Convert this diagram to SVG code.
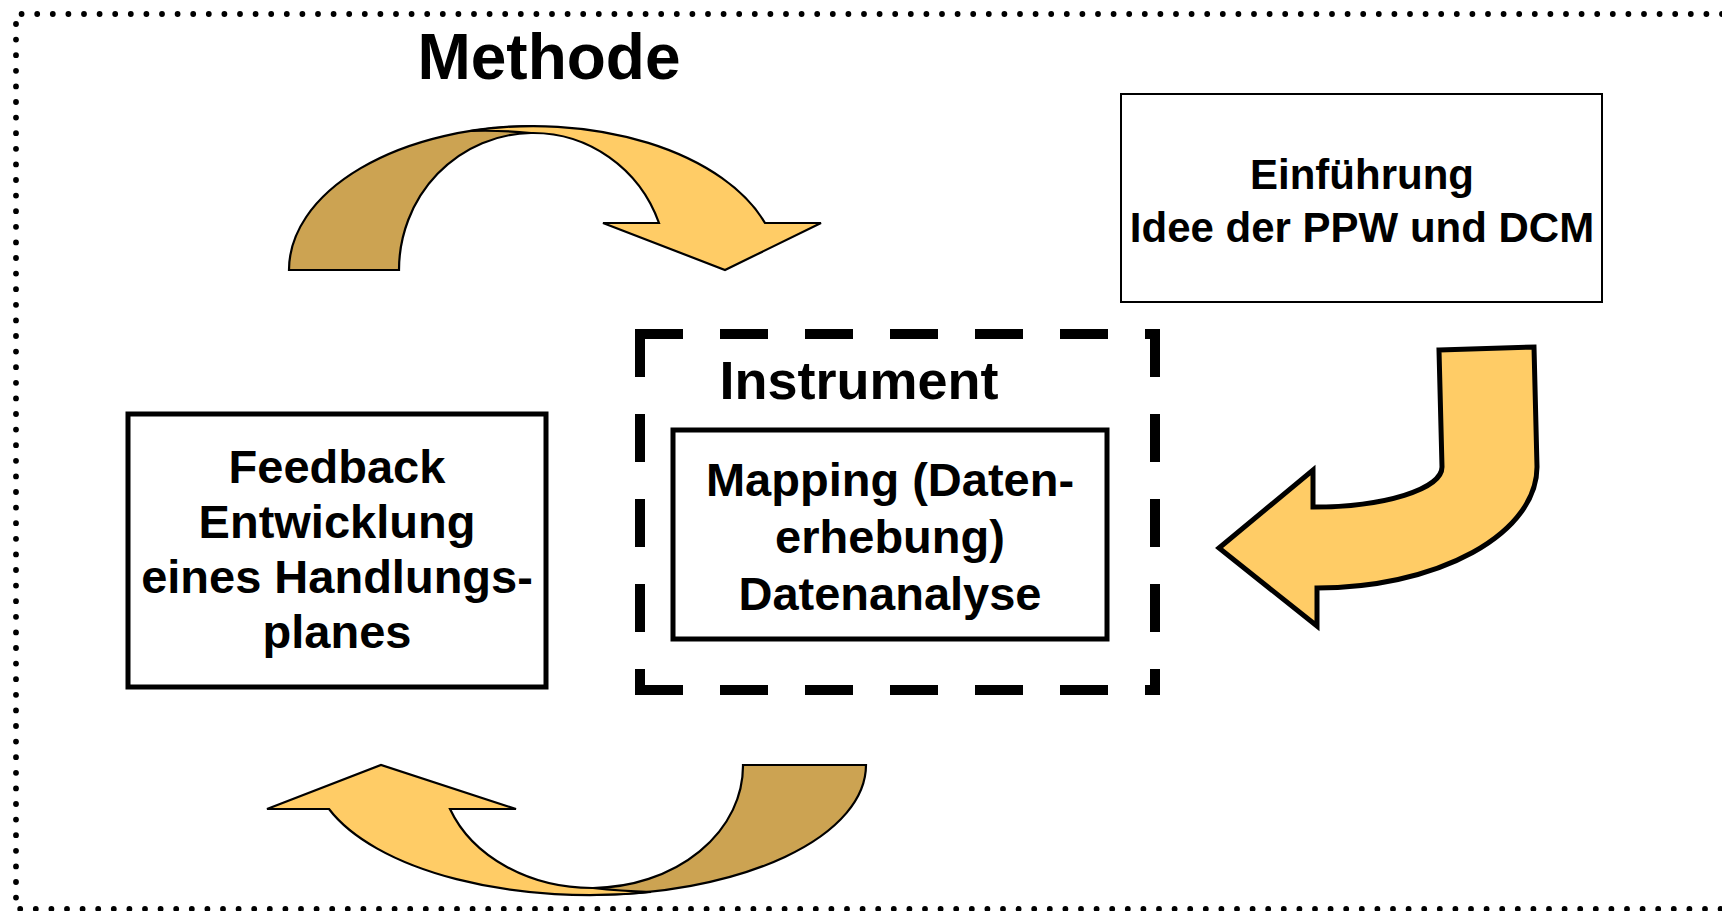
<svg xmlns="http://www.w3.org/2000/svg" width="1722" height="911" viewBox="0 0 1722 911">
  <style>
    .lbl { font-family: "Liberation Sans", Arial, Helvetica, sans-serif; font-weight: bold; fill: #000; text-anchor: middle; }
    .box { fill: #fff; stroke: #000; }
    .front { fill: #FFCC66; stroke: #000; stroke-width: 2.2; stroke-linejoin: miter; }
    .back { fill: #CCA352; stroke: #000; stroke-width: 2.2; stroke-linejoin: miter; }
  </style>

  <rect width="1722" height="911" fill="#fff"/>

  <!-- dotted outer frame (right side runs off the page) -->
  <path id="frame" d="M1722,14 H16 V909 H1722" fill="none" stroke="#000" stroke-width="5.8" stroke-linecap="round" stroke-dasharray="0 15.6"/>

  <!-- title -->
  <g id="title">
    <text class="lbl" x="549" y="79" font-size="64">Methode</text>
  </g>

  <!-- Einführung box -->
  <g id="node-einfuehrung">
    <rect class="box" x="1121" y="94" width="481" height="208" stroke-width="2"/>
    <text class="lbl" x="1362" y="189" font-size="42">Einführung</text>
    <text class="lbl" x="1362" y="242" font-size="42">Idee der PPW und DCM</text>
  </g>

  <!-- Instrument group (dashed) -->
  <g id="node-instrument">
    <g fill="none" stroke="#000" stroke-width="10" stroke-dasharray="48 37">
      <path d="M635,334 H1155"/>
      <path d="M640,329 V690"/>
      <path d="M1155,329 V690"/>
      <path d="M635,690 H1160"/>
    </g>
    <text class="lbl" x="859" y="399" font-size="54">Instrument</text>
  </g>

  <!-- Mapping box -->
  <g id="node-mapping">
    <rect class="box" x="673" y="430" width="434" height="209" stroke-width="5"/>
    <text class="lbl" x="890" y="496" font-size="47">Mapping (Daten-</text>
    <text class="lbl" x="890" y="553" font-size="47">erhebung)</text>
    <text class="lbl" x="890" y="610" font-size="47">Datenanalyse</text>
  </g>

  <!-- Feedback box -->
  <g id="node-feedback">
    <rect class="box" x="128" y="414" width="418" height="273" stroke-width="5"/>
    <text class="lbl" x="337" y="483" font-size="47">Feedback</text>
    <text class="lbl" x="337" y="538" font-size="47">Entwicklung</text>
    <text class="lbl" x="337" y="593" font-size="47">eines Handlungs-</text>
    <text class="lbl" x="337" y="648" font-size="47">planes</text>
  </g>

  <!-- block arrows -->
  <g id="connectors">
    <!-- top curved arrow: back side then front ribbon -->
    <path class="back" d="M289,270 A245,144 0 0 1 534,126 L531,133 A134,137 0 0 0 399,270 Z"/>
    <path class="front" d="M470,131 Q500,130 531,133 A134,137 0 0 1 659,223 L603,223 L725,270 L821,223 L765,223 A245,144 0 0 0 470,131 Z"/>

    <!-- bottom curved arrow -->
    <path class="back" d="M866,765 A277,130 0 0 1 589,895 L593,888 A152,122 0 0 0 743,765 Z"/>
    <path class="front" d="M651,892 Q620,891 593,888 A152,122 0 0 1 450,809 L516,809 L381,765 L267,809 L329,809 A277,130 0 0 0 651,892 Z"/>

    <!-- right bent arrow -->
    <path fill="#FFCC66" stroke="#000" stroke-width="5" stroke-linejoin="miter" d="M1439,350 L1534,347 L1537,467 A220,121 0 0 1 1317,588 L1317,626 L1219,548 L1313,470 L1313,507 A129,40 0 0 0 1442,467 Z"/>
  </g>
</svg>
